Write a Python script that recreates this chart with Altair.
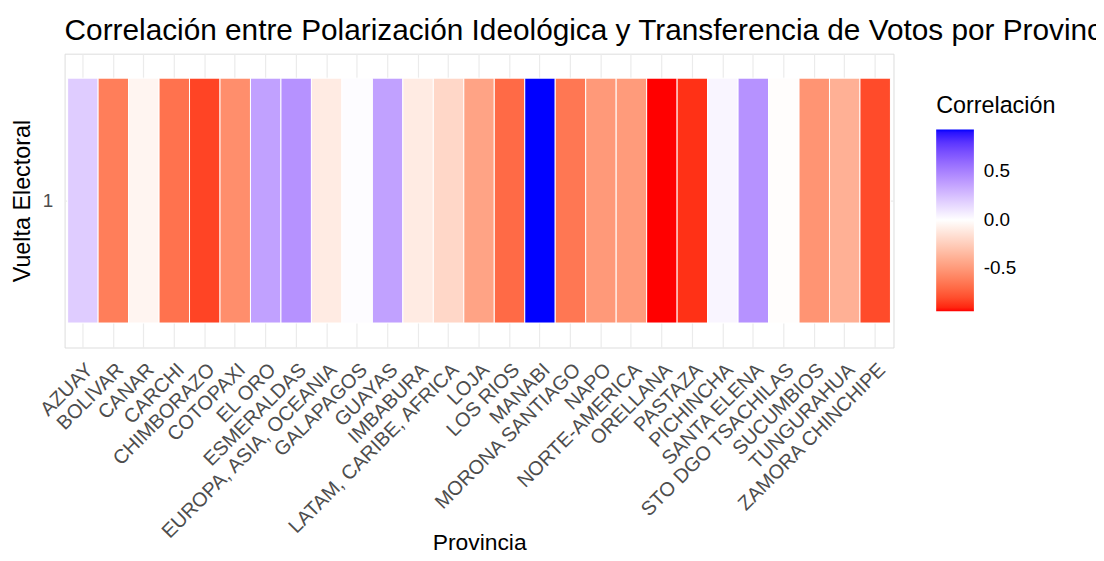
import altair as alt
import pandas as pd

provincias = ["AZUAY", "BOLIVAR", "CANAR", "CARCHI", "CHIMBORAZO", "COTOPAXI",
              "EL ORO", "ESMERALDAS", "EUROPA, ASIA, OCEANIA", "GALAPAGOS",
              "GUAYAS", "IMBABURA", "LATAM, CARIBE, AFRICA", "LOJA", "LOS RIOS",
              "MANABI", "MORONA SANTIAGO", "NAPO", "NORTE-AMERICA", "ORELLANA",
              "PASTAZA", "PICHINCHA", "SANTA ELENA", "STO DGO TSACHILAS",
              "SUCUMBIOS", "TUNGURAHUA", "ZAMORA CHINCHIPE"]
correlacion = [0.20, -0.62, -0.05, -0.67, -0.83, -0.55, 0.37, 0.43, -0.10, 0.01,
               0.37, -0.10, -0.20, -0.45, -0.70, 0.93, -0.65, -0.50, -0.49, -0.94,
               -0.88, 0.04, 0.43, -0.01, -0.52, -0.39, -0.81]
vuelta = ["1"] * len(provincias)

df = pd.DataFrame({"Provincia": provincias, "Correlacion": correlacion, "Vuelta": vuelta})

FONT = "Liberation Sans"
lo, hi = min(correlacion), max(correlacion)

chart = alt.Chart(df).mark_rect(stroke="white", strokeWidth=1).encode(
    x=alt.X("Provincia:N", sort=provincias,
            scale=alt.Scale(paddingInner=0, paddingOuter=0.1),
            axis=alt.Axis(title="Provincia", labelAngle=-45, labelAlign="right",
                          labelBaseline="top", labelFontSize=20, labelColor="#4D4D4D",
                          labelFont=FONT, labelLimit=0, labelPadding=12,
                          grid=True, gridColor="#EBEBEB", gridWidth=1.2, zindex=0,
                          bandPosition=0.5, domain=False, ticks=False, tickSize=0,
                          titleFont=FONT, titleFontSize=23, titleFontWeight="normal",
                          titleColor="black", titleX=417.6, titleY=203,
                          titleBaseline="alphabetic", titleAlign="center")),
    y=alt.Y("Vuelta:N",
            scale=alt.Scale(paddingInner=0, paddingOuter=0.1),
            axis=alt.Axis(title="Vuelta Electoral", labelFontSize=19,
                          labelColor="#4D4D4D", labelFont=FONT, labelPadding=12,
                          grid=True, gridColor="#EBEBEB", gridWidth=1.2, zindex=0,
                          bandPosition=0.5, domain=False, ticks=False, tickSize=0,
                          titleFont=FONT, titleFontSize=23.5, titleFontWeight="normal",
                          titleColor="black", titleX=-42, titleY=148,
                          titleBaseline="middle", titleAlign="center", titleAngle=270)),
    color=alt.Color("Correlacion:Q",
                    scale=alt.Scale(domain=[lo, 0, hi], range=["red", "white", "blue"],
                                    interpolate="lab"),
                    legend=alt.Legend(title="Correlación", orient="none",
                                      legendX=878, legendY=41,
                                      gradientLength=183, gradientThickness=38,
                                      gradientStrokeWidth=0,
                                      values=[-0.5, 0.0, 0.5],
                                      labelExpr="datum.value < 0 ? '-' + format(-datum.value, '.1f') : format(datum.value, '.1f')",
                                      labelFont=FONT, labelFontSize=19, labelColor="black",
                                      labelOffset=10,
                                      titleFont=FONT, titleFontSize=23.5,
                                      titleFontWeight="normal", titleColor="black",
                                      titlePadding=12)),
).properties(
    width=835, height=296,
    autosize=alt.AutoSizeParams(type="none"),
    padding={"left": 57, "top": 44, "right": 204, "bottom": 205},
    title=alt.Title("Correlación entre Polarización Ideológica y Transferencia de Votos por Provincia",
                    anchor="start", frame="group", font=FONT, fontSize=30,
                    fontWeight="normal", color="black", offset=8),
).configure_view(stroke=None).configure(background="white")

chart.save("out.html", embed_options={"renderer": "svg", "actions": False})
